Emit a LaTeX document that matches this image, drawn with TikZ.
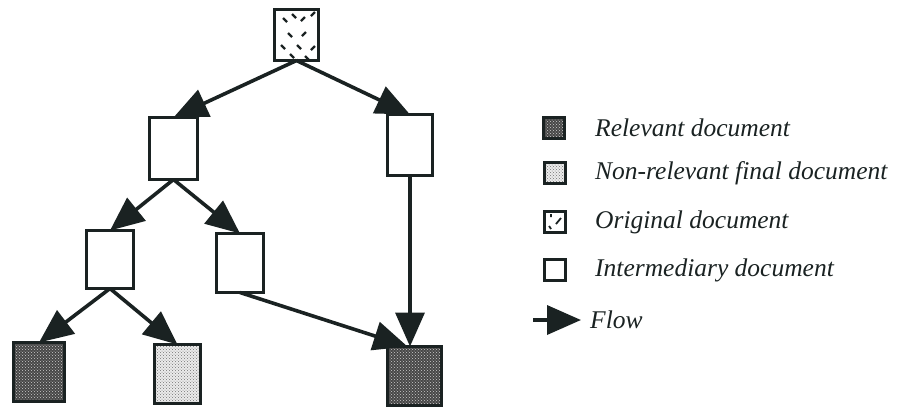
\documentclass[tikz,border=0pt]{standalone}
\usepackage{fontspec}
\setmainfont{Liberation Serif}
\usetikzlibrary{arrows.meta,patterns}
\definecolor{ink}{RGB}{26,34,34}
\begin{document}
\begin{tikzpicture}[x=1pt,y=-1pt,
  doc/.style={draw=ink, line width=3.6pt, inner sep=0pt, outer sep=0pt,
    minimum width=47pt, minimum height=59pt, fill=white},
  reldoc/.style={doc, fill=black!72, path picture={\fill[pattern=crosshatch dots, pattern color=white!80!black]
      (path picture bounding box.south west) rectangle (path picture bounding box.north east);}},
  nonreldoc/.style={doc, fill=black!8, path picture={\fill[pattern=crosshatch dots, pattern color=black!55]
      (path picture bounding box.south west) rectangle (path picture bounding box.north east);}},
  leg/.style={minimum width=21pt, minimum height=21pt, line width=3pt},
  flow/.style={draw=ink, line width=3.6pt, -{Triangle[length=34pt,width=29pt]}},
  tick/.style={draw=ink, line width=2.2pt},
  legtext/.style={anchor=west, inner sep=0pt, font=\fontsize{25.5}{25.5}\selectfont\itshape, text=ink}
]
\useasboundingbox (0,0) rectangle (897,408);
% tree nodes
\node[doc, minimum width=44pt, minimum height=51pt] (orig) at (296.5,35) {};
\foreach \a/\b/\c/\d in {283/18/287/22, 292/14/296/18, 301/21/305/17, 311/16/315/12,
    288/33/292/37, 302/36/306/32,
    281/45/285/49, 297/45/301/49, 311/50/315/46, 290/54/294/58, 305/56/309/60}
  \path[tick] (\a,\b) -- (\c,\d);
\node[doc, minimum width=48pt, minimum height=62pt] (l2a) at (173.5,148.5) {};
\node[doc, minimum width=45pt, minimum height=61pt] (l2b) at (410,145) {};
\node[doc, minimum width=47pt, minimum height=58pt] (l3a) at (110,259.5) {};
\node[doc, minimum width=47pt, minimum height=59pt] (l3b) at (240,263) {};
\node[reldoc, minimum width=51pt, minimum height=59pt] (r1) at (39,372) {};
\node[nonreldoc, minimum width=46pt, minimum height=59pt] (n1) at (177.5,374) {};
\node[reldoc, minimum width=54pt, minimum height=59pt] (r2) at (414.5,376) {};
% connectors
\draw[flow] (orig.south) -- (l2a.north);
\draw[flow] (orig.south) -- (l2b.north);
\draw[flow] (l2a.south) -- (l3a.north);
\draw[flow] (l2a.south) -- (l3b.north);
\draw[flow] (l3a.south) -- (r1.north);
\draw[flow] (l3a.south) -- (n1.north);
\draw[flow] (l3b.south) -- ([xshift=-7pt]r2.north);
\draw[flow] (l2b.south) -- (l2b.south |- r2.north);
% legend
\node[reldoc, leg] (kr) at (554,128) {};
\node[nonreldoc, leg] (kn) at (555,173) {};
\node[doc, leg] (ko) at (555,222) {};
\path[tick, line width=1.8pt] (556,224) -- (561,218) (549,226) -- (551,229) (551,214) -- (551,217);
\node[doc, leg] (ki) at (555,270) {};
\coordinate (fa) at (533,320);
\coordinate (fb) at (581,320);
\draw[flow] (fa) -- (fb);
\node[legtext] (tr) at (595,128) {Relevant document};
\node[legtext] (tn) at (595,173) {Non-relevant final document};
\node[legtext] (to) at (595,222) {Original document};
\node[legtext] (ti) at (595,270) {Intermediary document};
\node[legtext] (tf) at (590,320) {Flow};
\end{tikzpicture}
\end{document}
